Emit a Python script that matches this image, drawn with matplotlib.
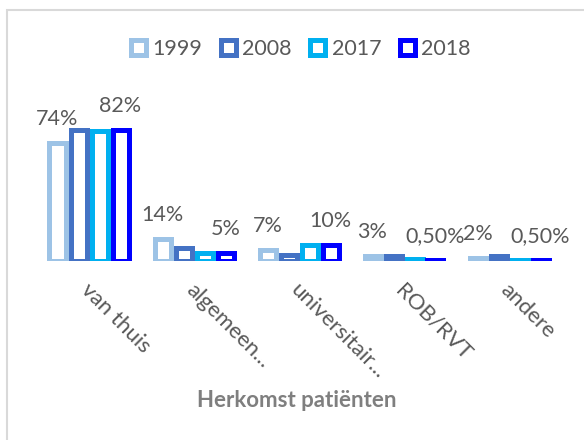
import matplotlib.pyplot as plt
import numpy as np
from matplotlib.patches import Rectangle

categories = ["van thuis", "algemeen...", "universitair...", "ROB/RVT", "andere"]
years = ["1999", "2008", "2017", "2018"]
v1999 = [74, 14, 7, 3, 2]
v2008 = [82, 8, 4, 3, 3]
v2017 = [81, 5, 10, 1, 0.5]
v2018 = [82, 5, 10, 0.5, 0.5]
labels1999 = ["74%", "14%", "7%", "3%", "2%"]
labels2018 = ["82%", "5%", "10%", "0,50%", "0,50%"]
colors = ["#9dc3e6", "#4472c4", "#00b0f0", "#0000ff"]

plt.rcParams['font.family'] = ['Lato', 'DejaVu Sans']
grey = "#595959"

fig = plt.figure(figsize=(5.84, 4.40), dpi=100)
ax = fig.add_axes([36.5 / 584, 1 - 261 / 440, 525 / 584, 160 / 440])

x = np.arange(len(categories))
series = [v1999, v2008, v2017, v2018]
step = 0.2
width = step - 5 / 105
bars = []
for k, (vals, col) in enumerate(zip(series, colors)):
    b = ax.bar(x + (k - 1.5) * step, vals, width, facecolor="white",
               edgecolor=col, linewidth=3.6, label=years[k])
    bars.append(b)

# data labels on 1999 and 2018 series
for i in range(len(categories)):
    ax.annotate(labels1999[i], (x[i] - 1.5 * step, v1999[i]), xytext=(0, 18),
                textcoords="offset pixels", ha="center", va="baseline",
                fontsize=15.5, color=grey)
    ax.annotate(labels2018[i], (x[i] + 1.5 * step, v2018[i]), xytext=(0, 18),
                textcoords="offset pixels", ha="center", va="baseline",
                fontsize=15.5, color=grey)

ax.set_xlim(-0.5, 4.5)
ax.set_ylim(0, 100)
ax.set_xticks([])
ax.set_yticks([])
for s in ax.spines.values():
    s.set_visible(False)

for i, c in enumerate(categories):
    ax.annotate(c, (x[i], 0), xycoords=ax.get_xaxis_transform(),
                xytext=(2, -19), textcoords="offset pixels",
                rotation=-45, rotation_mode="anchor", ha="left", va="top",
                fontsize=16, color=grey)

fig.text(297 / 584, 1 - 400 / 440, "Herkomst patiënten", ha="center",
         va="center", fontsize=16, fontweight="bold", color="#7f7f7f")

fig.legend(handles=bars, loc="center", bbox_to_anchor=(301 / 584, 1 - 49 / 440),
           ncol=4, frameon=False, fontsize=15.5, labelcolor=grey,
           handlelength=0.7, handleheight=0.7, handletextpad=0.3,
           columnspacing=0.85, borderpad=0)

fig.patches.append(Rectangle((6.5 / 584, -0.1), 1.2, 1.1 - 10.5 / 440,
                             transform=fig.transFigure, fill=False,
                             edgecolor="#d9d9d9", linewidth=1.5))

fig.savefig("out.png", dpi=100)
